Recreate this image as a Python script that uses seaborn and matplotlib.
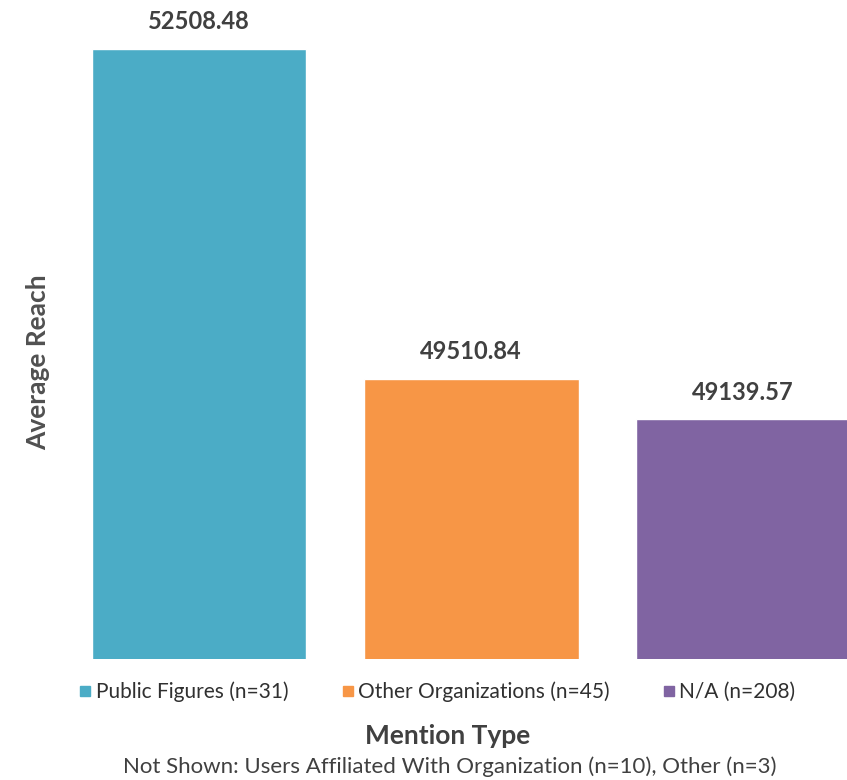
import matplotlib
matplotlib.use("Agg")
import matplotlib.pyplot as plt
import seaborn as sns
import pandas as pd
from matplotlib.lines import Line2D

categories = ["Public Figures (n=31)", "Other Organizations (n=45)", "N/A (n=208)"]
values = [52508.48, 49510.84, 49139.57]
value_labels = ["52508.48", "49510.84", "49139.57"]
colors = ["#4BACC6", "#F79646", "#8064A2"]

sns.set_theme(style="white")
plt.rcParams["font.family"] = ["Lato", "DejaVu Sans"]

df = pd.DataFrame({"cat": categories, "val": values})

fig = plt.figure(figsize=(8.47, 7.80), dpi=100)
ax = fig.add_axes([63 / 847, 1 - 659 / 780, 1 - 63 / 847, 659 / 780])
sns.barplot(data=df, x="cat", y="val", hue="cat", palette=colors,
            order=categories, hue_order=categories, dodge=False,
            width=0.79, legend=False, ax=ax, saturation=1)
ax.set_ylim(46960, 52954)
ax.set_xlim(-0.5, 2.382)
for s in ax.spines.values():
    s.set_visible(False)
ax.set_xticks([])
ax.set_yticks([])
ax.set_xlabel("")
ax.set_ylabel("")

for i, (v, lab) in enumerate(zip(values, value_labels)):
    ax.annotate(lab, (i, v), xytext=(0, 27), textcoords="offset pixels",
                ha="center", va="center", fontsize=17, fontweight="bold",
                color="#404040")

fig.text(38 / 847, 1 - 362 / 780, "Average Reach", rotation=90,
         ha="center", va="center", fontsize=19, fontweight="bold",
         color="#505050")

handles = [Line2D([0], [0], marker="s", linestyle="none", markersize=6.5,
                  markerfacecolor=c, markeredgecolor=c) for c in colors]
fig.legend(handles, categories, ncol=3, loc="center left",
           bbox_to_anchor=(80 / 847, 1 - 692 / 780), frameon=False,
           handlelength=0.5, handletextpad=0.25, columnspacing=2.6,
           fontsize=15, labelcolor="#303030", borderpad=0, borderaxespad=0)

fig.text(448 / 847, 1 - 736 / 780, "Mention Type", ha="center", va="center",
         fontsize=19, fontweight="bold", color="#404040")
fig.text(450 / 847, 1 - 767 / 780,
         "Not Shown: Users Affiliated With Organization (n=10), Other (n=3)",
         ha="center", va="center", fontsize=16, color="#404040")

fig.savefig("out.png", dpi=100)
